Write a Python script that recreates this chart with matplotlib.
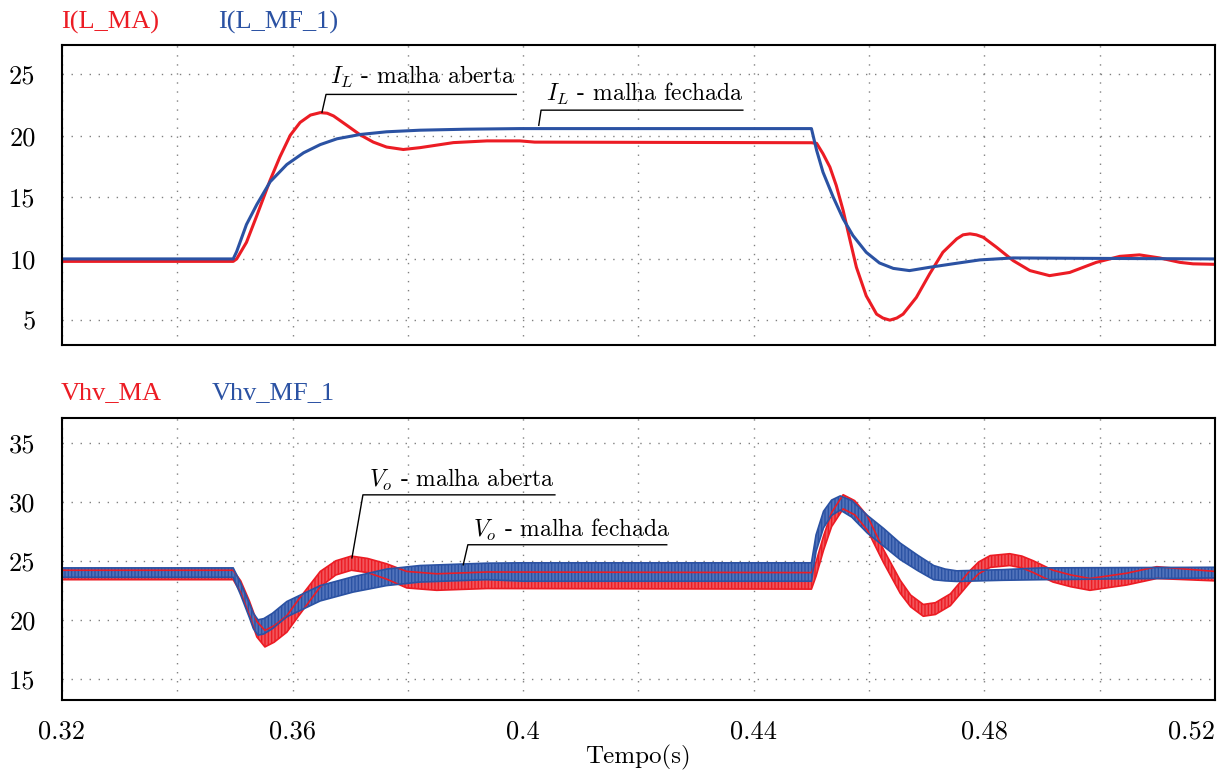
import matplotlib
matplotlib.use("Agg")
import matplotlib.pyplot as plt
import numpy as np
from matplotlib.ticker import MultipleLocator, FixedLocator, FixedFormatter

# inductor current, open loop (MA) and closed loop (MF)
t_il_ma = [0.32, 0.3497, 0.3503, 0.352, 0.3538, 0.3561, 0.3578, 0.3596, 0.3613, 0.3631,
           0.3648, 0.366, 0.3671, 0.3694, 0.3717, 0.374, 0.3763, 0.3792, 0.3821, 0.3879,
           0.3937, 0.3994, 0.402, 0.45, 0.4509, 0.452, 0.4532, 0.4543, 0.4555, 0.4567,
           0.4578, 0.4595, 0.4613, 0.4624, 0.4636, 0.4648, 0.4659, 0.4682, 0.4705, 0.4728,
           0.4752, 0.4763, 0.4775, 0.4786, 0.4798, 0.4821, 0.485, 0.4879, 0.4913, 0.4948,
           0.4994, 0.5035, 0.5069, 0.5104, 0.5139, 0.5162, 0.52]
il_ma = [9.8, 9.8, 10.0, 11.35, 13.53, 16.4, 18.3, 20.06, 21.1, 21.7,
         21.9, 21.85, 21.63, 20.87, 20.1, 19.5, 19.1, 18.9, 19.05, 19.46,
         19.6, 19.6, 19.5, 19.45, 19.4, 18.56, 17.47, 15.98, 13.94, 11.5,
         9.32, 7.0, 5.51, 5.19, 5.02, 5.19, 5.51, 6.87, 8.78, 10.54,
         11.63, 11.96, 12.04, 11.96, 11.76, 10.95, 9.86, 9.05, 8.64, 8.9,
         9.72, 10.21, 10.33, 10.08, 9.72, 9.6, 9.56]

t_il_mf = [0.32, 0.3497, 0.3503, 0.352, 0.3538, 0.3561, 0.359, 0.3619, 0.3648, 0.3677,
           0.3717, 0.3763, 0.3821, 0.39, 0.3994, 0.45, 0.4509, 0.452, 0.4538, 0.4555,
           0.4572, 0.4595, 0.4618, 0.4642, 0.467, 0.4705, 0.4745, 0.4792, 0.485, 0.4965,
           0.52]
il_mf = [10.0, 10.0, 10.6, 12.8, 14.43, 16.27, 17.68, 18.63, 19.3, 19.77,
         20.12, 20.34, 20.47, 20.55, 20.6, 20.6, 18.83, 17.06, 15.0, 13.26,
         11.9, 10.54, 9.67, 9.23, 9.05, 9.32, 9.6, 9.92, 10.08, 10.05,
         10.0]

# output voltage: centre of the ripple band and its half width
t_vo_ma = [0.32, 0.3497, 0.351, 0.3525, 0.3538, 0.3552, 0.3568, 0.359, 0.361, 0.3648,
           0.3675, 0.3702, 0.373, 0.3763, 0.3798, 0.385, 0.3937, 0.45, 0.4508, 0.4521,
           0.4535, 0.4555, 0.4575, 0.4597, 0.4625, 0.4654, 0.4672, 0.4694, 0.4715, 0.4741,
           0.4775, 0.479, 0.481, 0.4844, 0.4865, 0.4885, 0.4919, 0.495, 0.4983, 0.5047,
           0.5099, 0.52]
vo_ma = [23.8, 23.8, 22.8, 21.0, 19.2, 18.4, 18.8, 19.65, 21.0, 23.45,
         24.4, 24.8, 24.6, 24.1, 23.4, 23.2, 23.35, 23.3, 24.3, 26.5,
         28.5, 30.0, 29.5, 28.2, 25.4, 22.8, 21.6, 20.8, 20.95, 21.7,
         23.67, 24.4, 24.94, 25.1, 24.9, 24.5, 23.7, 23.3, 23.0, 23.45,
         24.0, 23.7]
rip_ma = [0.4, 0.4, 0.5, 0.6, 0.65, 0.7, 0.7, 0.7, 0.7, 0.65,
          0.6, 0.6, 0.6, 0.65, 0.7, 0.7, 0.7, 0.7, 0.6, 0.6,
          0.6, 0.6, 0.6, 0.6, 0.55, 0.55, 0.5, 0.5, 0.5, 0.5,
          0.5, 0.5, 0.5, 0.5, 0.5, 0.5, 0.5, 0.5, 0.5, 0.5,
          0.5, 0.4]

t_vo_mf = [0.32, 0.3497, 0.351, 0.3525, 0.3532, 0.354, 0.355, 0.3565, 0.359, 0.3648,
           0.3705, 0.3763, 0.3821, 0.3937, 0.40, 0.45, 0.4508, 0.4521, 0.4535, 0.455,
           0.457, 0.4597, 0.4625, 0.4654, 0.4685, 0.4712, 0.4732, 0.4752, 0.4832, 0.49,
           0.52]
vo_mf = [24.0, 24.0, 22.6, 20.8, 19.9, 19.35, 19.45, 19.9, 20.9, 22.25,
         23.0, 23.6, 23.9, 24.1, 24.05, 24.05, 26.5, 28.5, 29.5, 29.9,
         29.4, 28.1, 27.0, 25.8, 24.8, 24.0, 23.8, 23.7, 23.8, 23.9,
         24.0]
rip_mf = [0.4, 0.4, 0.5, 0.6, 0.65, 0.65, 0.65, 0.65, 0.65, 0.65,
          0.65, 0.7, 0.7, 0.7, 0.78, 0.78, 0.7, 0.7, 0.65, 0.6,
          0.7, 0.75, 0.75, 0.7, 0.65, 0.6, 0.5, 0.45, 0.45, 0.5,
          0.45]

x_ticks = [0.32, 0.36, 0.40, 0.44, 0.48, 0.52]
x_tick_labels = ['0.32', '0.36', '0.4', '0.44', '0.48', '0.52']
top_yticks = [5, 10, 15, 20, 25]
bot_yticks = [15, 20, 25, 30, 35]

RED = '#ec1c24'
BLUE = '#2b52a3'
RED_LIGHT = '#f2555b'
BLUE_LIGHT = '#5273bb'

plt.rcParams['mathtext.fontset'] = 'cm'
plt.rcParams['hatch.linewidth'] = 1.0

fig = plt.figure(figsize=(12.3, 7.73), dpi=100)
ax1 = fig.add_axes([0.0504, 0.5537, 0.9374, 0.3881])
ax2 = fig.add_axes([0.0504, 0.0944, 0.9374, 0.3648])

for ax, yt in [(ax1, top_yticks), (ax2, bot_yticks)]:
	ax.set_xlim(0.32, 0.52)
	ax.xaxis.set_major_locator(FixedLocator(x_ticks))
	ax.xaxis.set_minor_locator(MultipleLocator(0.02))
	ax.set_yticks(yt)
	ax.grid(which='both', axis='x', color='#808080', lw=1.0, ls=(0, (1, 5.5)))
	ax.grid(which='major', axis='y', color='#808080', lw=1.0, ls=(0, (1, 5.5)))
	ax.tick_params(which='both', length=0)
	ax.tick_params(axis='y', pad=19, labelsize=19)
	for lbl in ax.get_yticklabels():
		lbl.set_family('cmr10')
	for s in ax.spines.values():
		s.set_linewidth(1.5)
	ax.set_axisbelow(True)

ax1.set_ylim(3.0, 27.4)
ax2.set_ylim(13.2, 37.1)

ax1.xaxis.set_major_formatter(FixedFormatter([''] * len(x_ticks)))
ax2.xaxis.set_major_formatter(FixedFormatter(x_tick_labels))
ax2.tick_params(axis='x', pad=14, labelsize=19)
for lbl in ax2.get_xticklabels():
	lbl.set_family('cmr10')
ax2.get_xticklabels()[-1].set_horizontalalignment('right')
ax2.get_xticklabels()[0].set_horizontalalignment('center')

# top panel: inductor current
ax1.plot(t_il_ma, il_ma, color=RED, lw=2.2)
ax1.plot(t_il_mf, il_mf, color=BLUE, lw=2.2)

# bottom panel: output voltage with switching ripple
for t, c, r, dark, light in [(t_vo_ma, vo_ma, rip_ma, RED, RED_LIGHT),
                             (t_vo_mf, vo_mf, rip_mf, BLUE, BLUE_LIGHT)]:
	t = np.array(t)
	c = np.array(c)
	r = np.array(r)
	ax2.fill_between(t, c - r, c + r, facecolor=light, edgecolor=dark,
	                 hatch='|||||', lw=0)
	ax2.plot(t, c + r, color=dark, lw=1.2)
	ax2.plot(t, c - r, color=dark, lw=1.2)

# annotations
def label(ax, text, tx, ty, x0, x1, yl, xp, yp):
	ax.text(tx, ty, text, fontsize=17, family='cmr10', va='baseline', ha='left')
	ax.plot([x1, x0, xp], [yl, yl, yp], color='black', lw=1.0)

label(ax1, r'$I_L$ - malha aberta', 0.3665, 24.2, 0.3658, 0.3988, 23.38, 0.3651, 21.93)
label(ax1, r'$I_L$ - malha fechada', 0.4040, 22.83, 0.4031, 0.4381, 22.1, 0.4027, 20.87)
label(ax2, r'$V_o$ - malha aberta', 0.3733, 31.27, 0.3722, 0.4055, 30.59, 0.3703, 25.25)
label(ax2, r'$V_o$ - malha fechada', 0.3913, 27.03, 0.3904, 0.4249, 26.36, 0.3896, 24.66)

# trace names
fig.text(61 / 1230, 1 - 29 / 773, 'I(L_MA)', color=RED, fontsize=19, family='Liberation Serif')
fig.text(218 / 1230, 1 - 29 / 773, 'I(L_MF_1)', color=BLUE, fontsize=19, family='Liberation Serif')
fig.text(61 / 1230, 1 - 399 / 773, 'Vhv_MA', color=RED, fontsize=19, family='Liberation Serif')
fig.text(212 / 1230, 1 - 399 / 773, 'Vhv_MF_1', color=BLUE, fontsize=19, family='Liberation Serif')

fig.text(0.519, 1 - 757 / 773, 'Tempo(s)', fontsize=18, family='cmr10', ha='center', va='center')

fig.savefig('out.png', dpi=100)
